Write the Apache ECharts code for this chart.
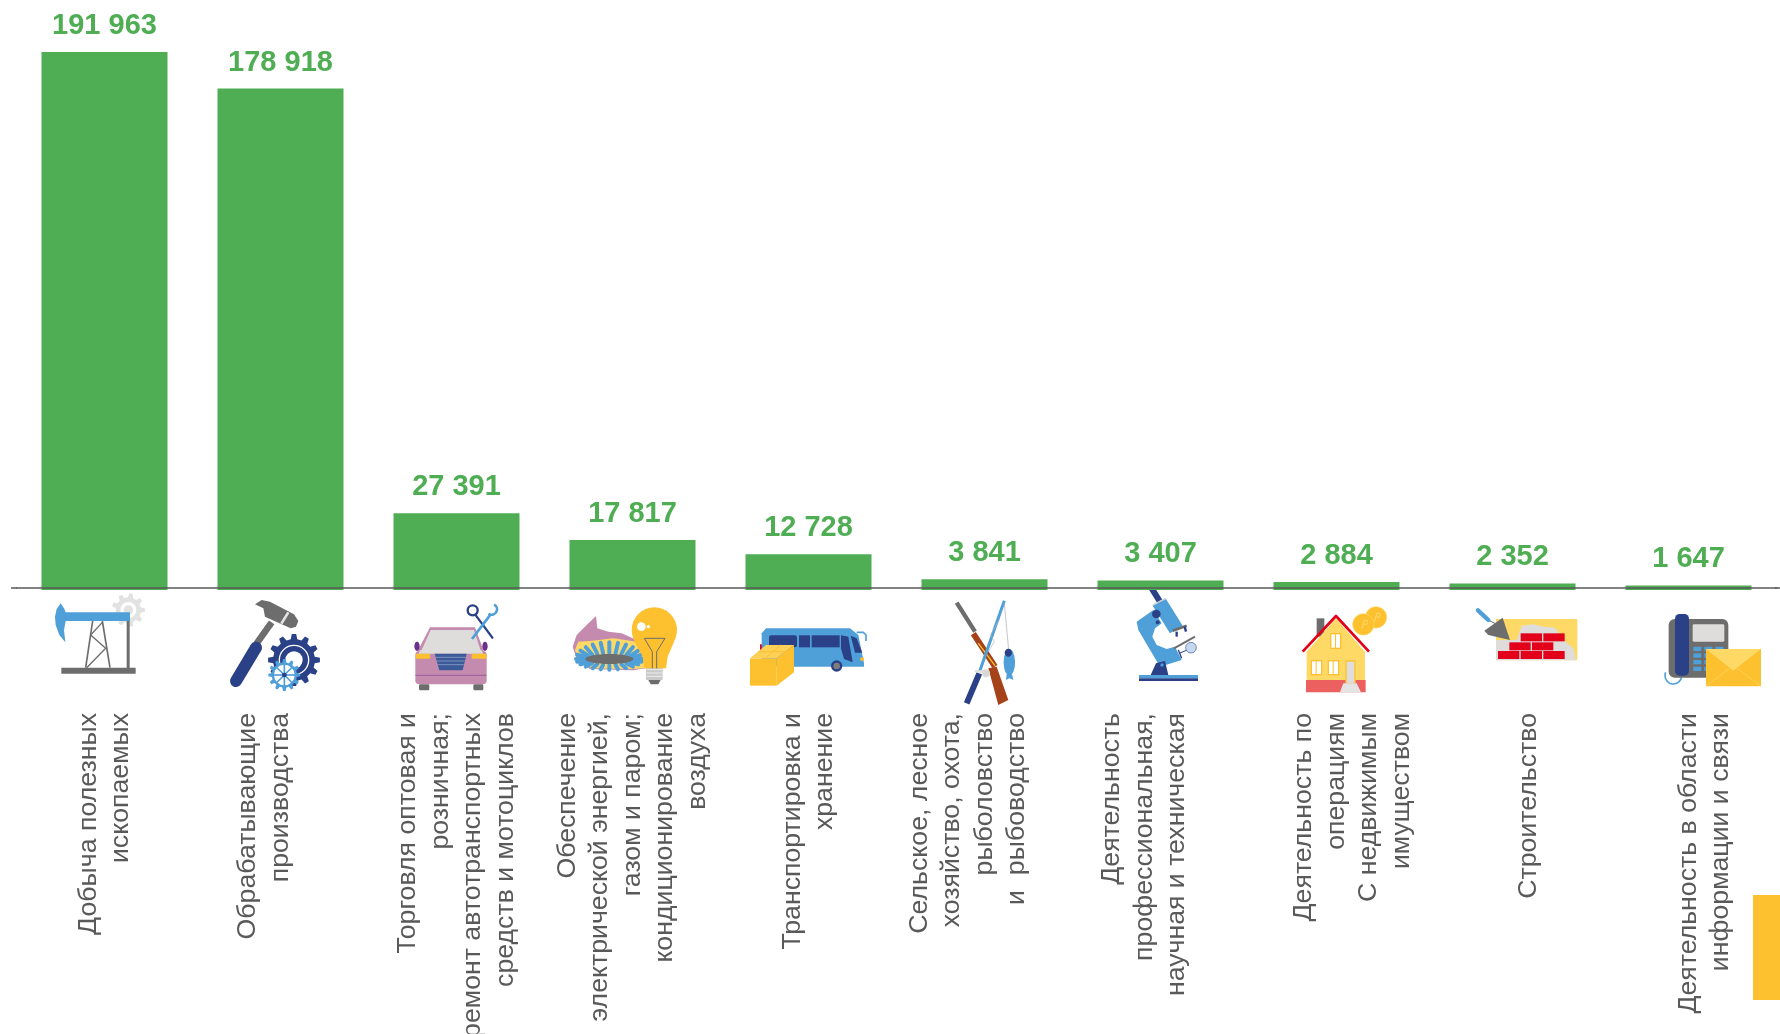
<!DOCTYPE html>
<html>
<head>
<meta charset="utf-8">
<title>Chart</title>
<script src="https://cdn.jsdelivr.net/npm/echarts@6/dist/echarts.min.js"></script>
<style>
html, body { margin: 0; padding: 0; background: #fff; overflow: hidden; }
#chart { width: 1780px; height: 1034px; }
</style>
</head>
<body>
<div id="chart"></div>
<script>
// blank first/last lines keep the off-centre columns of the original
const categories = [
    'Добыча полезных\nископаемых',
    'Обрабатывающие\nпроизводства\n ',
    'Торговля оптовая и\nрозничная;\nремонт автотранспортных\nсредств и мотоциклов',
    'Обеспечение\nэлектрической энергией,\nгазом и паром;\nкондиционирование\nвоздуха',
    'Транспортировка и\nхранение',
    'Сельское, лесное\nхозяйство, охота,\nрыболовство\nи  рыбоводство\n ',
    'Деятельность\nпрофессиональная,\nнаучная и техническая\n ',
    ' \nДеятельность по\nоперациям\nС недвижимым\nимуществом',
    ' \nСтроительство',
    ' \nДеятельность в области\nинформации и связи'
]
const values = [191963, 178918, 27391, 17817, 12728, 3841, 3407, 2884, 2352, 1647]

const GREEN = '#4fae53'
const BLUE = '#4f9fd9'
const NAVY = '#2a4188'
const GRAY = '#6d6d6d'
const LIGHT = '#dedddb'
const YELLOW = '#fdc02f'
const PALE = '#ffd966'
const PINK = '#c48bae'
const RED = '#e2001a'

// icon helpers, coordinates are crop pixels at 3x
function rect(x, y, w, h, fill, r) {
    return { type: 'rect', shape: { x: x, y: y, width: w, height: h, r: r || 0 }, style: { fill: fill } }
}
function poly(points, fill) {
    return { type: 'polygon', shape: { points: points }, style: { fill: fill } }
}
function line(points, stroke, width, cap) {
    return { type: 'polyline', shape: { points: points }, style: { fill: 'none', stroke: stroke, lineWidth: width, lineCap: cap || 'butt', lineJoin: 'round' } }
}
function circ(cx, cy, r, fill, stroke, width) {
    return { type: 'circle', shape: { cx: cx, cy: cy, r: r }, style: { fill: fill, stroke: stroke || null, lineWidth: width || 0 } }
}
function ell(cx, cy, rx, ry, fill) {
    return { type: 'ellipse', shape: { cx: cx, cy: cy, rx: rx, ry: ry }, style: { fill: fill } }
}
function arc(cx, cy, r, a, b, stroke, width) {
    return { type: 'arc', shape: { cx: cx, cy: cy, r: r, startAngle: a, endAngle: b }, style: { fill: 'none', stroke: stroke, lineWidth: width } }
}
function gear(cx, cy, outer, inner, teeth, fill) {
    let pts = []
    for (let i = 0; i < teeth; i++) {
        let step = Math.PI * 2 / teeth
        let a = i * step
        pts.push([cx + inner * Math.cos(a - step * 0.3), cy + inner * Math.sin(a - step * 0.3)])
        pts.push([cx + outer * Math.cos(a - step * 0.16), cy + outer * Math.sin(a - step * 0.16)])
        pts.push([cx + outer * Math.cos(a + step * 0.16), cy + outer * Math.sin(a + step * 0.16)])
        pts.push([cx + inner * Math.cos(a + step * 0.3), cy + inner * Math.sin(a + step * 0.3)])
    }
    return poly(pts, fill)
}
function crop(x, children) {
    return { type: 'group', x: x, y: 585, scaleX: 1 / 3, scaleY: 1 / 3, silent: true, children: children }
}

function pumpAndHammer() {
    let items = [
        gear(265, 75, 50, 38, 9, '#e2e2e2'),
        circ(265, 75, 24, '#fff'),
        circ(265, 75, 14, '#e2e2e2'),
        line([[158, 108], [137, 248]], GRAY, 5),
        line([[187, 108], [210, 248]], GRAY, 5),
        line([[187, 112], [152, 150], [197, 190], [140, 248]], GRAY, 4),
        rect(260, 106, 9, 144, GRAY),
        rect(64, 248, 223, 18, GRAY),
        rect(75, 82, 195, 26, BLUE),
        poly([[62, 55], [72, 70], [77, 82], [77, 108], [72, 135], [76, 172], [58, 150], [47, 120], [45, 95], [50, 72]], BLUE),
        line([[650, 175], [695, 112]], GRAY, 20),
        poly([[645, 58], [665, 45], [690, 50], [762, 88], [775, 108], [768, 125], [752, 130], [675, 95], [670, 70]], GRAY),
        line([[745, 82], [724, 116]], '#e4e4e4', 8),
        line([[588, 288], [648, 188]], NAVY, 36, 'round'),
        gear(762, 225, 78, 63, 12, NAVY),
        circ(762, 225, 44, NAVY, '#fff', 4),
        circ(762, 225, 26, '#fff'),
        gear(733, 270, 48, 38, 12, BLUE),
        circ(733, 270, 31, '#fff')
    ]
    for (let i = 0; i < 4; i++) {
        let a = i * Math.PI / 4
        items.push(line([[733 - 33 * Math.cos(a), 270 - 33 * Math.sin(a)], [733 + 33 * Math.cos(a), 270 + 33 * Math.sin(a)]], BLUE, 5))
    }
    items.push(circ(733, 270, 7, NAVY))
    return items
}

function burnerPetals() {
    let items = []
    for (let i = 0; i < 24; i++) {
        let a = i * Math.PI / 12
        let c = Math.cos(a)
        let s = Math.sin(a)
        let sx = 628 + 72 * c
        let sy = 222 + 18 * s
        let ex = 628 + 100 * c
        let ey = 222 + (s > 0 ? 32 : 50) * s
        items.push(line([[sx, sy], [ex, ey]], BLUE, 12, 'round'))
    }
    return items
}

function carAndBulb() {
    let items = [
        poly([[90, 127], [225, 127], [252, 200], [52, 200]], PINK),
        poly([[92, 135], [222, 135], [245, 206], [60, 206]], LIGHT),
        ell(51, 184, 8, 14, '#6b2f8e'),
        ell(255, 184, 8, 14, '#6b2f8e'),
        rect(46, 198, 214, 100, PINK, 12),
        poly([[60, 196], [245, 196], [250, 206], [56, 206]], LIGHT),
        rect(47, 206, 43, 15, YELLOW, 3),
        rect(215, 206, 45, 15, YELLOW, 3),
        poly([[104, 206], [200, 206], [188, 256], [118, 256]], '#3c5a9a'),
        line([[108, 217], [197, 217]], '#9fb0d2', 2),
        line([[110, 228], [194, 228]], '#9fb0d2', 2),
        line([[113, 239], [191, 239]], '#9fb0d2', 2),
        line([[46, 271], [260, 271]], '#84478f', 2),
        rect(57, 298, 31, 18, GRAY, 4),
        rect(220, 298, 30, 18, GRAY, 4),
        circ(218, 76, 15, 'none', NAVY, 7),
        line([[228, 92], [277, 158]], NAVY, 7, 'round'),
        line([[272, 88], [216, 162]], BLUE, 8),
        arc(275, 73, 16, -1.1, 2.2, BLUE, 8),
        poly([[588, 93], [592, 130], [625, 140], [665, 145], [710, 165], [745, 248], [700, 256], [570, 252], [530, 222], [518, 185], [530, 150], [560, 120]], PINK),
        poly([[535, 170], [570, 168], [640, 160], [720, 172], [745, 248], [700, 252], [575, 250], [535, 222], [525, 195]], PALE)
    ]
    items = items.concat(burnerPetals())
    items = items.concat([
        ell(628, 222, 72, 15, GRAY),
        rect(738, 245, 50, 40, '#c9c9c9', 3),
        line([[740, 254], [787, 254]], '#fff', 2),
        line([[740, 264], [787, 264]], '#fff', 2),
        line([[740, 274], [787, 274]], '#fff', 2),
        poly([[745, 285], [782, 285], [775, 298], [752, 298]], GRAY),
        circ(763, 135, 68, YELLOW),
        poly([[704, 170], [822, 170], [803, 215], [798, 250], [733, 250], [728, 215]], YELLOW),
        circ(724, 125, 13, '#fff'),
        circ(745, 125, 5, '#fff'),
        line([[733, 160], [795, 160], [770, 200], [770, 250]], GRAY, 3),
        line([[733, 160], [757, 200], [757, 250]], GRAY, 3)
    ])
    return items
}

function busAndRifle() {
    return [
        rect(60, 178, 6, 18, RED),
        poly([[65, 145], [78, 130], [330, 130], [355, 150], [372, 235], [372, 245], [65, 245]], BLUE),
        rect(87, 151, 84, 36, NAVY, 6),
        rect(177, 151, 33, 36, NAVY),
        rect(215, 151, 84, 36, NAVY),
        poly([[303, 151], [325, 155], [338, 232], [312, 222], [303, 190]], NAVY),
        poly([[332, 152], [350, 160], [367, 203], [345, 203]], NAVY),
        line([[350, 142], [370, 142], [378, 150], [378, 168]], BLUE, 5),
        circ(290, 243, 17, NAVY),
        circ(290, 243, 10, '#7d7d7d'),
        rect(361, 218, 11, 9, YELLOW),
        rect(30, 220, 80, 82, YELLOW),
        poly([[30, 220], [78, 180], [162, 180], [110, 220]], '#fdd057'),
        poly([[110, 220], [162, 180], [162, 262], [110, 302]], YELLOW),
        line([[76, 220], [122, 180]], YELLOW, 3),
        line([[55, 200], [138, 200]], YELLOW, 3),
        line([[650, 53], [705, 140]], GRAY, 13),
        line([[700, 146], [765, 245]], '#a5421a', 18),
        poly([[745, 250], [770, 245], [805, 345], [775, 360]], '#a5421a'),
        line([[715, 175], [765, 242]], YELLOW, 4),
        line([[680, 355], [718, 265]], NAVY, 18),
        line([[718, 262], [793, 47]], BLUE, 9),
        line([[793, 55], [806, 195]], '#aaaaaa', 2),
        line([[780, 100], [752, 150], [763, 170], [745, 200]], '#b5b5b5', 2),
        line([[705, 258], [745, 262]], '#e0e0e0', 8),
        circ(738, 265, 12, '#d8d8d8'),
        ell(808, 232, 17, 40, BLUE),
        poly([[800, 268], [816, 268], [820, 285], [808, 280], [798, 285]], BLUE),
        ell(805, 203, 11, 12, NAVY)
    ]
}

function scopeAndHouse() {
    return [
        line([[125, 10], [150, 50]], NAVY, 18),
        poly([[128, 62], [168, 42], [218, 122], [180, 145]], BLUE),
        line([[128, 60], [166, 40]], '#d0d0d0', 4),
        poly([[80, 110], [130, 75], [155, 115], [135, 130], [127, 155], [140, 180], [170, 192], [195, 185], [215, 225], [150, 245], [85, 135]], BLUE),
        circ(139, 87, 13, NAVY),
        circ(143, 112, 6, NAVY),
        line([[188, 137], [230, 122]], GRAY, 8),
        line([[200, 140], [200, 155]], NAVY, 7),
        line([[224, 125], [228, 140]], NAVY, 7),
        line([[192, 190], [255, 155]], GRAY, 6),
        line([[205, 195], [215, 220]], NAVY, 4),
        line([[207, 205], [232, 195]], NAVY, 3),
        circ(243, 188, 16, '#c5d8ee', '#3c5a9a', 2),
        poly([[122, 270], [138, 235], [165, 228], [175, 270]], NAVY),
        circ(156, 240, 5, BLUE),
        rect(87, 270, 177, 10, BLUE),
        rect(87, 280, 177, 8, NAVY),
        rect(620, 100, 23, 55, GRAY),
        poly([[590, 200], [678, 100], [765, 200], [765, 290], [590, 290]], PALE),
        line([[578, 200], [678, 93], [777, 200]], RED, 8),
        rect(588, 285, 179, 37, '#ec6060'),
        rect(706, 226, 31, 70, YELLOW),
        rect(710, 230, 23, 64, LIGHT),
        poly([[700, 295], [740, 295], [753, 322], [690, 322]], '#e4e4e4'),
        rect(660, 144, 34, 48, YELLOW),
        rect(664, 148, 11, 40, '#fff'),
        rect(678, 148, 12, 40, '#fff'),
        rect(602, 225, 35, 46, YELLOW),
        rect(606, 229, 11, 38, '#fff'),
        rect(620, 229, 13, 38, '#fff'),
        rect(653, 225, 35, 46, YELLOW),
        rect(657, 229, 11, 38, '#fff'),
        rect(671, 229, 13, 38, '#fff'),
        circ(798, 97, 32, YELLOW, PALE, 2),
        circ(760, 118, 32, YELLOW, PALE, 2),
        line([[794, 110], [801, 84], [811, 86], [808, 97], [796, 96]], PALE, 3),
        line([[756, 131], [763, 105], [773, 107], [770, 118], [758, 117]], PALE, 3)
    ]
}

function wallAndPhone() {
    let items = [
        rect(108, 102, 244, 124, PALE),
        poly([[108, 226], [108, 165], [170, 165], [185, 122], [220, 118], [250, 125], [285, 128], [310, 165], [340, 190], [348, 226]], LIGHT),
        rect(182, 145, 64, 24, RED),
        rect(250, 145, 64, 24, RED),
        rect(148, 172, 64, 24, RED),
        rect(216, 172, 64, 24, RED),
        rect(114, 198, 64, 24, RED),
        rect(182, 198, 64, 24, RED),
        rect(250, 198, 64, 24, RED),
        line([[85, 105], [110, 118]], GRAY, 3),
        line([[54, 76], [85, 105]], BLUE, 13, 'round'),
        poly([[73, 137], [128, 98], [150, 165], [85, 150]], GRAY),
        arc(640, 272, 25, 0.1, Math.PI + 0.4, BLUE, 5),
        rect(626, 102, 179, 176, GRAY, 18),
        rect(698, 118, 95, 52, LIGHT, 4),
        rect(645, 87, 42, 185, NAVY, 14)
    ]
    for (let row = 0; row < 4; row++) {
        for (let col = 0; col < 3; col++) {
            items.push(rect(700 + col * 33, 185 + row * 20, 24, 13, BLUE, 2))
        }
    }
    return items.concat([
        rect(738, 192, 165, 112, YELLOW),
        poly([[738, 192], [903, 192], [820, 257]], PALE),
        line([[738, 304], [808, 250]], PALE, 2),
        line([[903, 304], [832, 250]], PALE, 2)
    ])
}

const myChart = echarts.init(document.getElementById('chart'))
const option = {
    backgroundColor: '#ffffff',
    animation: false,
    grid: {
        left: 16.5,
        right: 3.5,
        top: 52,
        bottom: 444,
        outerBoundsMode: 'none'
    },
    xAxis: {
        type: 'category',
        data: categories,
        offset: -2,
        z: 5,
        axisLine: {
            onZero: false,
            lineStyle: { color: '#5a5a5a', width: 1.5 }
        },
        axisTick: { show: false },
        axisLabel: {
            interval: 0,
            rotate: 90,
            margin: 125,
            align: 'right',
            verticalAlign: 'middle',
            padding: [6, 0, 0, 0],
            fontFamily: 'Liberation Sans',
            fontSize: 26.7,
            lineHeight: 32.5,
            color: '#595959'
        }
    },
    yAxis: {
        type: 'value',
        min: 0,
        max: 191963,
        show: false,
        splitLine: { show: false }
    },
    series: [
        {
            type: 'bar',
            data: values,
            barWidth: 126,
            itemStyle: { color: GREEN },
            label: {
                show: true,
                position: 'top',
                distance: 11.5,
                fontFamily: 'Liberation Sans',
                fontSize: 29,
                fontWeight: 'bold',
                color: GREEN,
                formatter: function(p) {
                    return String(p.value).replace(/\B(?=(\d{3})+$)/g, ' ')
                }
            }
        }
    ],
    graphic: {
        elements: [
            { type: 'line', silent: true, shape: { x1: 11, y1: 588, x2: 17, y2: 588 }, style: { stroke: '#5a5a5a', lineWidth: 1.5 } },
            { type: 'line', silent: true, shape: { x1: 1775, y1: 588, x2: 1780, y2: 588 }, style: { stroke: '#5a5a5a', lineWidth: 1.5 } },
            crop(40, pumpAndHammer()),
            crop(400, carAndBulb()),
            crop(740, busAndRifle()),
            crop(1110, scopeAndHouse()),
            crop(1460, wallAndPhone()),
            { type: 'rect', silent: true, shape: { x: 1753, y: 895, width: 27, height: 105 }, style: { fill: YELLOW } }
        ]
    }
}
myChart.setOption(option)
window.addEventListener('resize', function() {
    myChart.resize()
})
</script>
</body>
</html>
